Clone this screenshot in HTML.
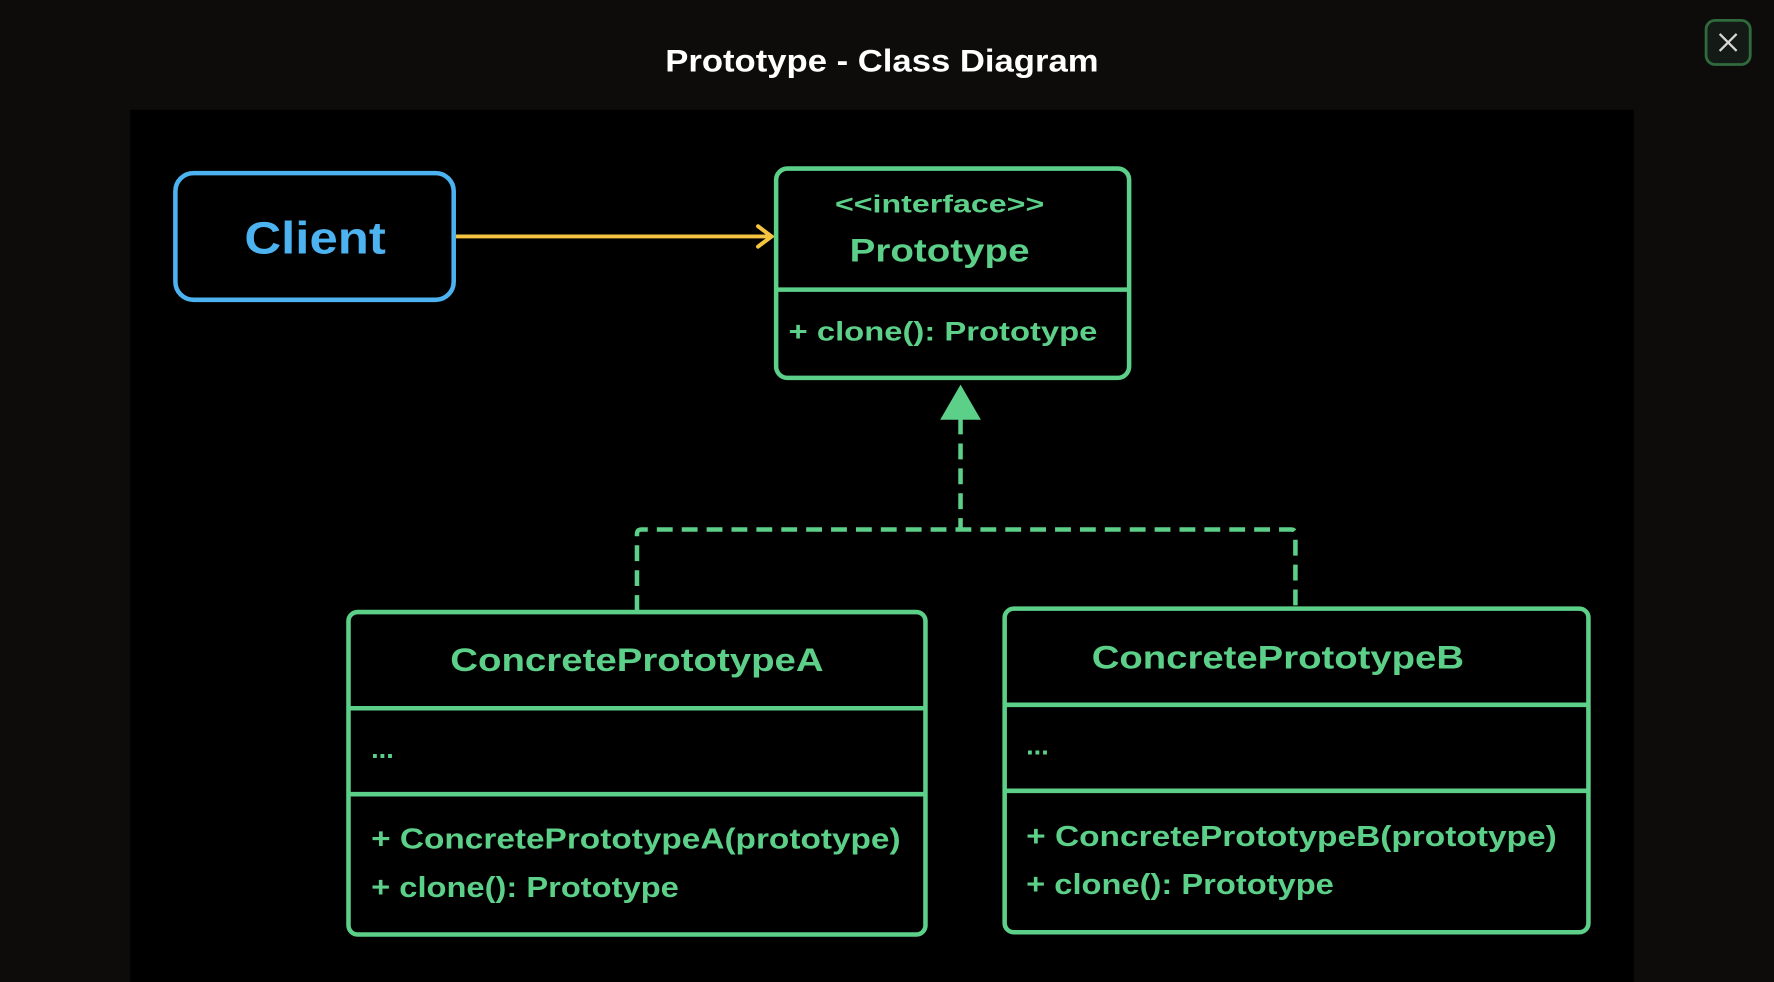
<!DOCTYPE html>
<html><head><meta charset="utf-8"><style>
html,body{margin:0;padding:0;background:#0d0c0b;overflow:hidden}
svg{display:block}
text{font-family:"Liberation Sans",sans-serif;font-weight:bold}
</style></head><body>
<svg width="1774" height="982" viewBox="0 0 1568 868" xmlns="http://www.w3.org/2000/svg">
<rect x="0" y="0" width="1568" height="868" fill="#0d0c0b"/>
<text x="588" y="63" font-size="28" fill="#ffffff" textLength="383" lengthAdjust="spacingAndGlyphs">Prototype - Class Diagram</text>
<rect x="1508" y="18" width="39" height="39" rx="8" fill="#141a15" stroke="#2f6b3c" stroke-width="2.5"/>
<path d="M1520 30 L1535 45 M1535 30 L1520 45" stroke="#d8d8d8" stroke-width="2"/>
<rect x="115" y="97" width="1329" height="771" fill="#000"/>
<!-- Client -->
<rect x="155" y="153" width="246" height="112" rx="16" fill="none" stroke="#4db3f0" stroke-width="4"/>
<text x="216" y="224" font-size="40" fill="#4db3f0" textLength="125" lengthAdjust="spacingAndGlyphs">Client</text>
<line x1="403" y1="209" x2="681" y2="209" stroke="#f5c542" stroke-width="3.5"/>
<path d="M670 200 L682 209 L670 218" fill="none" stroke="#f5c542" stroke-width="3.5" stroke-linecap="round"/>
<!-- Prototype -->
<g fill="none" stroke="#5ccf88" stroke-width="4">
<rect x="686" y="149" width="312" height="185" rx="10"/>
<line x1="686" y1="256" x2="998" y2="256"/>
<rect x="308" y="541" width="510" height="285" rx="8"/>
<line x1="308" y1="626" x2="818" y2="626"/>
<line x1="308" y1="702" x2="818" y2="702"/>
<rect x="888" y="538" width="516" height="286" rx="8"/>
<line x1="888" y1="623" x2="1404" y2="623"/>
<line x1="888" y1="699" x2="1404" y2="699"/>
<path d="M849 370 V468 M563 540 V472 Q563 468 567 468 H1141 Q1145 468 1145 472 V538" stroke-dasharray="14 8"/>
</g>
<polygon points="849,340 867,371 831,371" fill="#5ccf88"/>
<g fill="#5ccf88">
<text x="738" y="188" font-size="22" textLength="185" lengthAdjust="spacingAndGlyphs" font-weight="normal">&lt;&lt;interface&gt;&gt;</text>
<text x="751" y="231" font-size="29" textLength="159" lengthAdjust="spacingAndGlyphs">Prototype</text>
<text x="697" y="301" font-size="24" textLength="273" lengthAdjust="spacingAndGlyphs">+ clone(): Prototype</text>
<text x="398" y="593" font-size="29" textLength="330" lengthAdjust="spacingAndGlyphs">ConcretePrototypeA</text>
<text x="328" y="670" font-size="24">...</text>
<text x="328" y="750" font-size="25" textLength="468" lengthAdjust="spacingAndGlyphs">+ ConcretePrototypeA(prototype)</text>
<text x="328" y="793" font-size="25" textLength="272" lengthAdjust="spacingAndGlyphs">+ clone(): Prototype</text>
<text x="965" y="591" font-size="29" textLength="329" lengthAdjust="spacingAndGlyphs">ConcretePrototypeB</text>
<text x="907" y="667" font-size="24">...</text>
<text x="907" y="748" font-size="25" textLength="469" lengthAdjust="spacingAndGlyphs">+ ConcretePrototypeB(prototype)</text>
<text x="907" y="790" font-size="25" textLength="272" lengthAdjust="spacingAndGlyphs">+ clone(): Prototype</text>
</g>
</svg>
</body></html>
